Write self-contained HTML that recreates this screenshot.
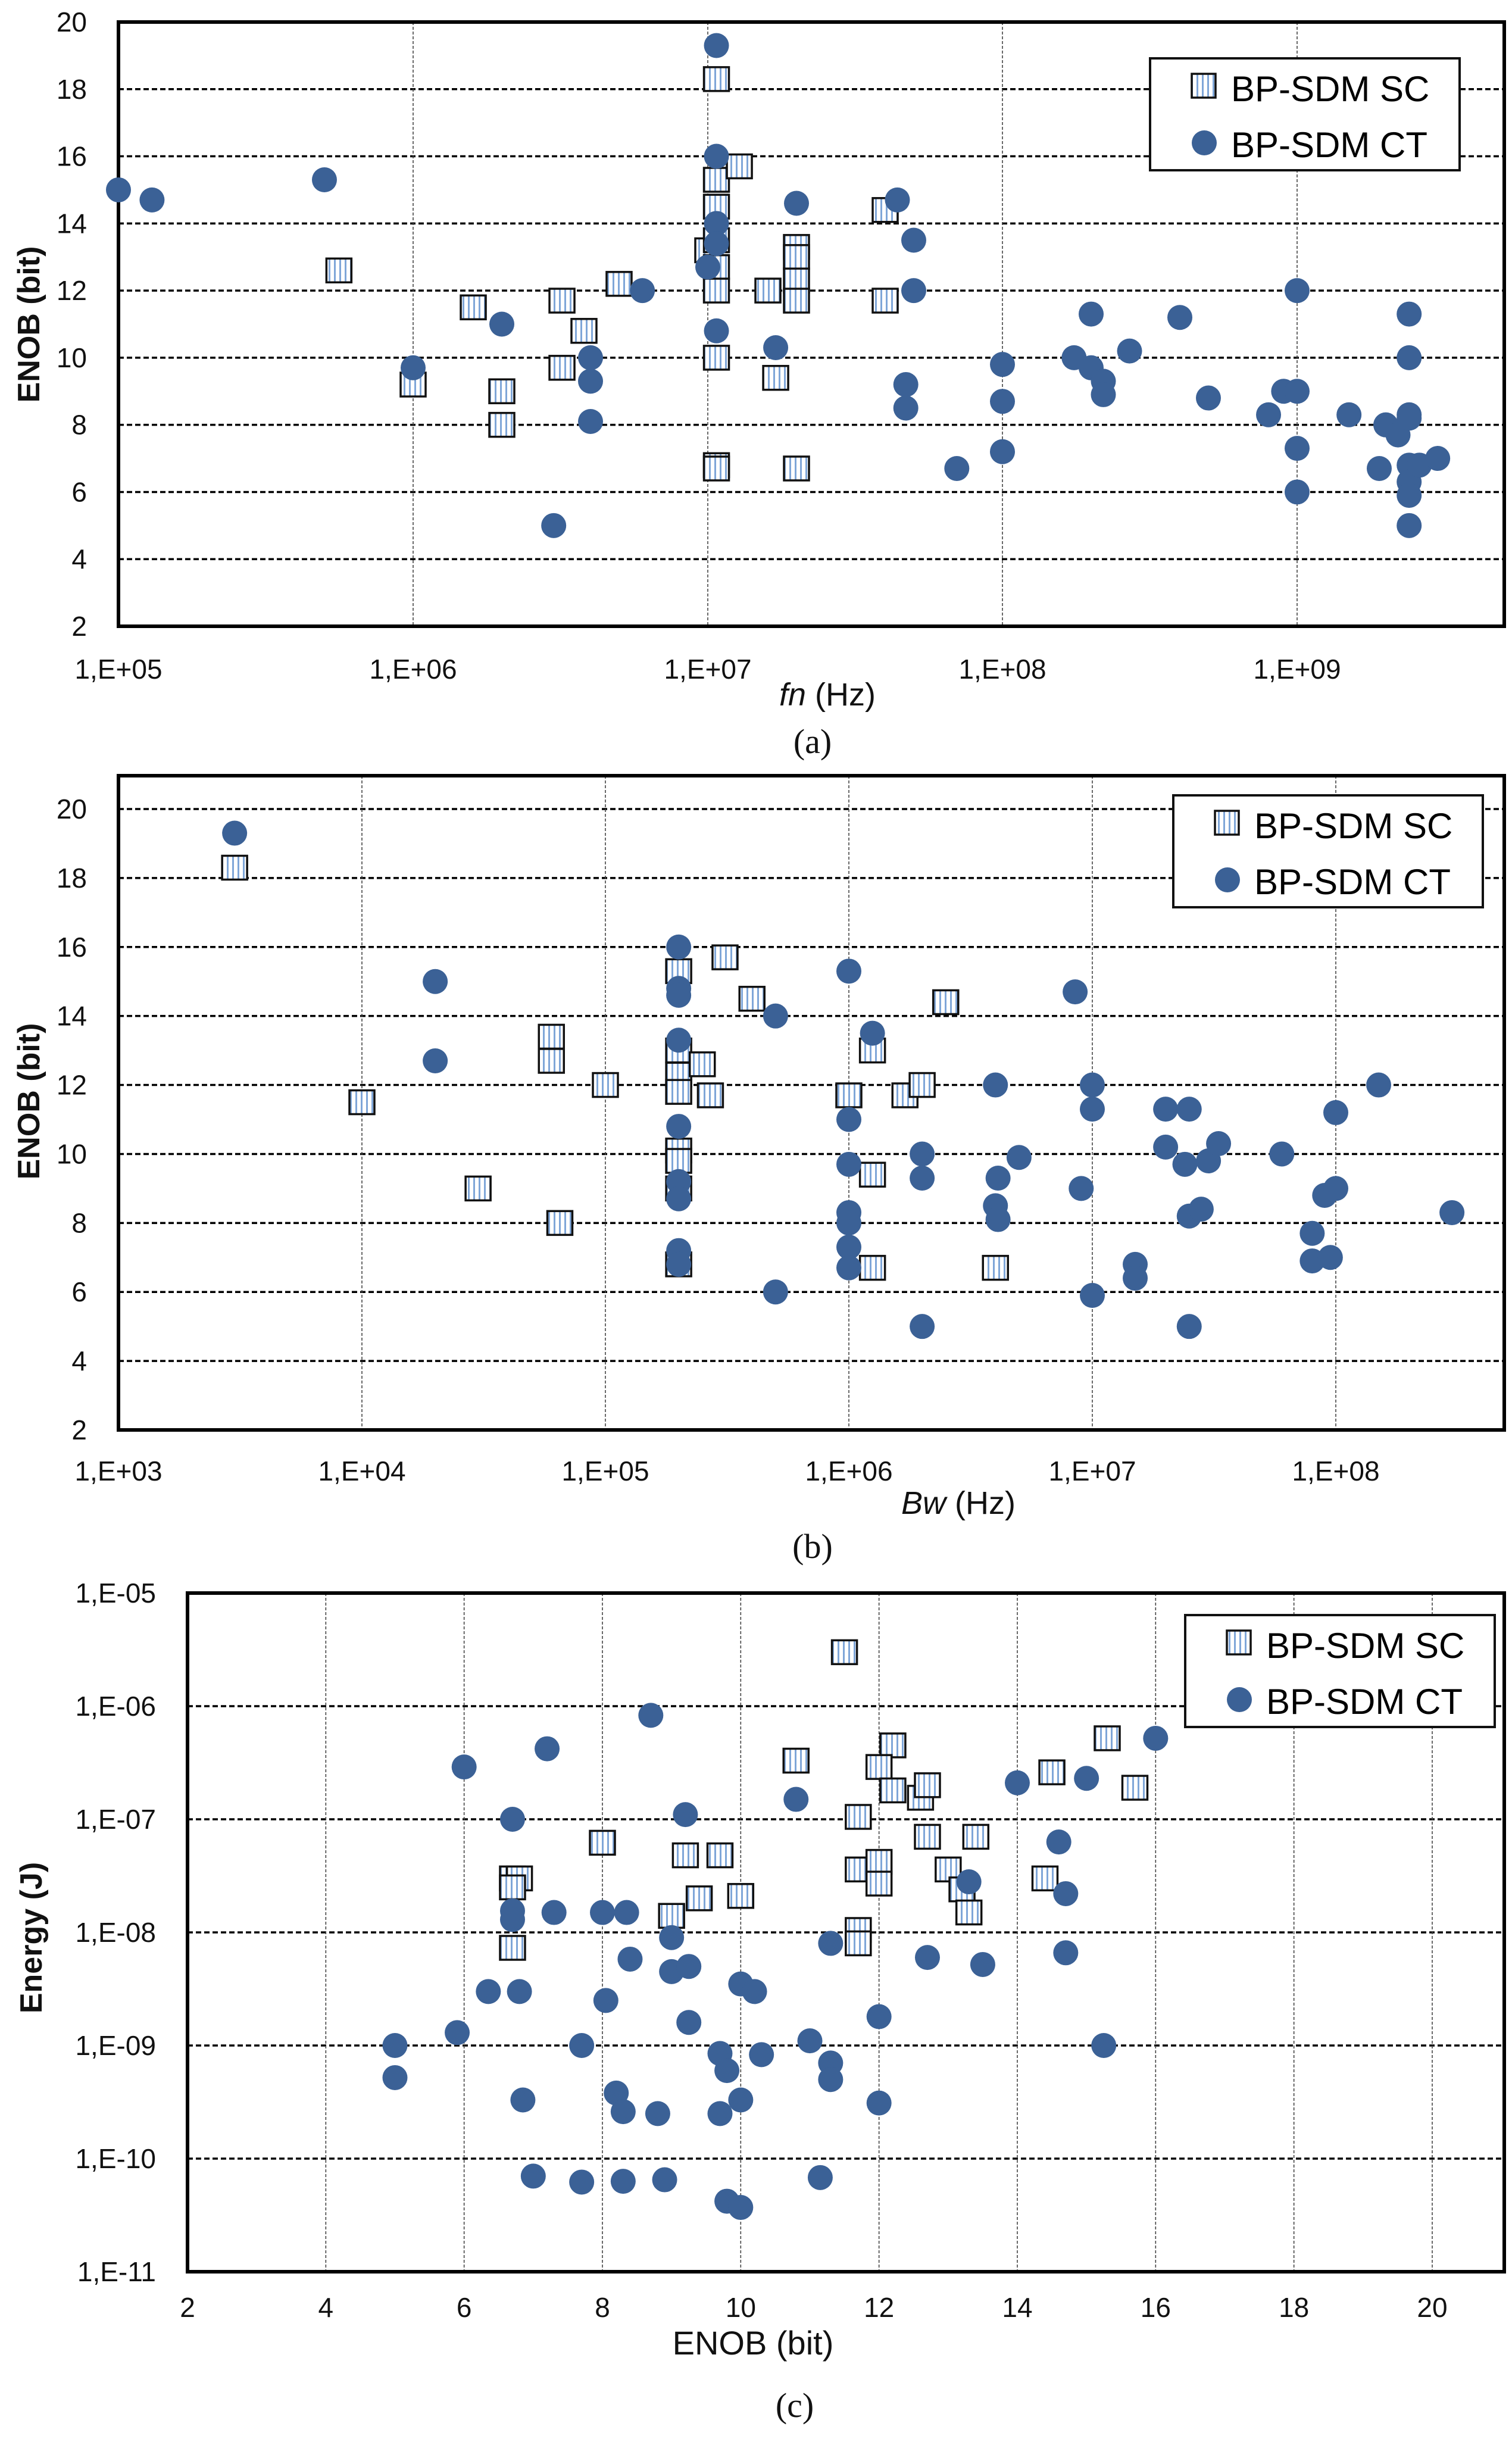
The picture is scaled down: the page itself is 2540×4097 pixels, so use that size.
<!DOCTYPE html>
<html><head><meta charset="utf-8"><style>
html,body{margin:0;padding:0;background:#fff;}
svg{display:block;font-family:"Liberation Sans",sans-serif;}
</style></head>
<body>
<svg id="fig" width="2540" height="4097" viewBox="0 0 2540 4097" xmlns="http://www.w3.org/2000/svg">
<defs>
<pattern id="stripes" patternUnits="userSpaceOnUse" width="9" height="10">
<rect width="9" height="10" fill="#ffffff"/>
<rect x="3" width="3" height="10" fill="#7fa6d8"/>
</pattern>
</defs>
</svg>
<script>
// ---------- Panel (a) data: fn (Hz) vs ENOB ----------
const aScX = [5.6e5,1e6,1.6e6,2e6,2e6,3.2e6,3.2e6,3.8e6,5e6,1e7,1.07e7,1.07e7,1.07e7,1.07e7,1.07e7,1.07e7,1.07e7,1.07e7,1.07e7,1.28e7,1.6e7,1.7e7,2e7,2e7,2e7,2e7,2e7,4e7,4e7];
const aScY = [12.6,9.2,11.5,9.0,8.0,11.7,9.7,10.8,12.2,13.2,18.3,15.3,14.5,13.5,12.7,12.0,10.0,6.8,6.7,15.7,12.0,9.4,13.3,13.0,12.3,11.7,6.7,14.4,11.7];
const aCtX = [1e5,1.3e5,5e5,1e6,2e6,3e6,4e6,4e6,4e6,6e6,1e7,1.07e7,1.07e7,1.07e7,1.07e7,1.07e7,1.7e7,2e7,4.4e7,4.7e7,4.7e7,5e7,5e7,7e7,1e8,1e8,1e8,1.75e8,2e8,2e8,2.2e8,2.2e8,2.7e8,4e8,5e8,8e8,9e8,1e9,1e9,1e9,1e9,1.5e9,1.9e9,2e9,2.2e9,2.4e9,2.4e9,2.4e9,2.4e9,2.4e9,2.4e9,2.4e9,2.4e9,2.6e9,3e9];
const aCtY = [15,14.7,15.3,9.7,11,5,10,9.3,8.1,12,12.7,19.3,16,14,13.4,10.8,10.3,14.6,14.7,9.2,8.5,13.5,12,6.7,9.8,8.7,7.2,10,11.3,9.7,9.3,8.9,10.2,11.2,8.8,8.3,9,12,9,7.3,6,8.3,6.7,8,7.7,11.3,10,8.3,8.2,6.8,6.3,5.9,5,6.8,7];
const aXTicks = ["1,E+05","1,E+06","1,E+07","1,E+08","1,E+09"];
const aYTicks = [2,4,6,8,10,12,14,16,18,20];

// ---------- Panel (b) data: Bw (Hz) vs ENOB ----------
const bScX = [3e3,1e4,3e4,6e4,6e4,6.5e4,1e5,2e5,2e5,2e5,2e5,2e5,2e5,2e5,2e5,2.5e5,2.7e5,3.1e5,4e5,1e6,1.25e6,1.25e6,1.25e6,1.7e6,2e6,2.5e6,4e6];
const bScY = [18.3,11.5,9,13.4,12.7,8,12,15.3,13,12.3,11.8,10.1,9.8,9,6.8,12.6,11.7,15.7,14.5,11.7,13,9.4,6.7,11.7,12,14.4,6.7];
const bCtX = [3e3,2e4,2e4,2e5,2e5,2e5,2e5,2e5,2e5,2e5,2e5,2e5,5e5,5e5,1e6,1e6,1e6,1e6,1e6,1e6,1e6,1.25e6,2e6,2e6,2e6,4e6,4e6,4.1e6,4.1e6,5e6,8.5e6,9e6,1e7,1e7,1e7,1.5e7,1.5e7,2e7,2e7,2.4e7,2.5e7,2.5e7,2.5e7,2.8e7,3e7,3.3e7,6e7,8e7,8e7,9e7,9.5e7,1e8,1e8,1.5e8,3e8];
const bCtY = [19.3,15,12.7,16,14.8,14.6,13.3,10.8,9.2,8.7,7.2,6.8,14,6,15.3,11,9.7,8.3,8,7.3,6.7,13.5,10,9.3,5,12,8.5,9.3,8.1,9.9,14.7,9,12,11.3,5.9,6.8,6.4,11.3,10.2,9.7,11.3,8.2,5,8.4,9.8,10.3,10,7.7,6.9,8.8,7,9,11.2,12,8.3];
const bXTicks = ["1,E+03","1,E+04","1,E+05","1,E+06","1,E+07","1,E+08"];
const bYTicks = [2,4,6,8,10,12,14,16,18,20];

// ---------- Panel (c) data: ENOB vs Energy (J) ----------
const cScX = [11.5,10.8,12.2,12.0,12.2,12.6,12.7,11.7,8.0,9.2,9.7,6.7,6.8,6.7,9.4,10.0,9.0,6.7,12.7,13.4,11.7,12.0,12.0,13.0,13.2,13.3,11.7,11.7,14.4,14.5,15.3,15.7];
const cScY = [3e-6,3.3e-7,4.5e-7,2.9e-7,1.8e-7,1.55e-7,2e-7,1.05e-7,6.2e-8,4.8e-8,4.8e-8,3e-8,3e-8,2.5e-8,2e-8,2.1e-8,1.4e-8,7.3e-9,7e-8,7e-8,3.6e-8,4.2e-8,2.7e-8,3.6e-8,2.4e-8,1.5e-8,1.05e-8,8e-9,3e-8,2.6e-7,5.2e-7,1.9e-7];
const cCtX = [5,5,5.9,6,6.35,6.7,6.7,6.7,6.8,6.85,7.0,7.2,7.3,7.7,7.7,8.0,8.05,8.2,8.3,8.3,8.35,8.4,8.7,8.8,8.9,9.0,9.0,9.2,9.25,9.25,9.7,9.7,9.8,9.8,10.0,10.0,10.0,10.2,10.3,10.8,11.0,11.15,11.3,11.3,11.3,12.0,12.0,12.7,13.3,13.5,14.0,14.6,14.7,14.7,15.0,15.25,16.0];
const cCtY = [1e-9,5.2e-10,1.3e-9,2.9e-7,3e-9,1e-7,1.55e-8,1.3e-8,3e-9,3.3e-10,7e-11,4.2e-7,1.5e-8,1e-9,6.2e-11,1.5e-8,2.5e-9,3.8e-10,2.6e-10,6.3e-11,1.5e-8,5.8e-9,8.3e-7,2.5e-10,6.5e-11,9e-9,4.5e-9,1.1e-7,5e-9,1.6e-9,8.5e-10,2.5e-10,6e-10,4.2e-11,3.5e-9,3.3e-10,3.7e-11,3e-9,8.3e-10,1.5e-7,1.1e-9,6.8e-11,7e-10,5e-10,8e-9,1.8e-9,3.1e-10,6e-9,2.8e-8,5.2e-9,2.1e-7,6.3e-8,2.2e-8,6.6e-9,2.3e-7,1e-9,5.2e-7];
const cXTicks = [2,4,6,8,10,12,14,16,18,20];
const cYTicks = ["1,E-11","1,E-10","1,E-09","1,E-08","1,E-07","1,E-06","1,E-05"];

const NS = "http://www.w3.org/2000/svg";
const svg = document.getElementById('fig');
function mk(tag, attrs, parent){
  const e = document.createElementNS(NS, tag);
  for (const k in attrs) e.setAttribute(k, attrs[k]);
  (parent||svg).appendChild(e);
  return e;
}
const CIRC = "#3b6196";

function panel(o){
  const g = mk('g', {});
  
  
  const L=o.L, R=o.R, T=o.T, B=o.B;
  o.hGrid.forEach(y=>{
    const ln = mk('line',{x1:L,x2:R,y1:y,y2:y,stroke:'#000','stroke-width':3.5,'stroke-dasharray':'9 5'},g);
    
    
  });
  o.vGrid.forEach(x=>{
    const ln = mk('line',{x1:x,x2:x,y1:T,y2:B,stroke:'#444','stroke-width':1.6,'stroke-dasharray':'5 3'},g);
    
    
  });
  const fr = mk('rect',{x:L,y:T,width:R-L,height:B-T,fill:'none',stroke:'#000','stroke-width':6},g);
  
  
  o.yLabels.forEach(t=>{
    const tx = mk('text',{x:o.yLabX,y:t.y+16,'text-anchor':'end','font-size':o.yFs||46,fill:'#111'},g);
    tx.textContent = t.s;
    
    
  });
  o.xLabels.forEach(t=>{
    const tx = mk('text',{x:t.x,y:o.xLabY,'text-anchor':'middle','font-size':46,fill:'#111'},g);
    tx.textContent = t.s;
    
    
  });
  o.sc.forEach(p=>{
    const r = mk('rect',{x:p[0]-21,y:p[1]-20,width:42,height:40,fill:'url(#stripes)',stroke:'#111','stroke-width':3.5},g);
    
    
  });
  o.ct.forEach(p=>{
    const c = mk('circle',{cx:p[0],cy:p[1],r:21,fill:CIRC},g);
    
    
  });
  const lg = mk('g',{},g);
  
  
  const lx=o.leg[0], ly=o.leg[1];
  mk('rect',{x:lx,y:ly,width:520,height:188,fill:'#fff',stroke:'#111','stroke-width':4},lg);
  const e1 = mk('g',{},lg);
  
  
  mk('rect',{x:lx+70,y:ly+26,width:40,height:40,fill:'url(#stripes)',stroke:'#111','stroke-width':3.5},e1);
  const t1 = mk('text',{x:lx+136,y:ly+72,'font-size':60,fill:'#000'},e1); t1.textContent='BP-SDM SC';
  const e2 = mk('g',{},lg);
  
  
  mk('circle',{cx:lx+91,cy:ly+142,r:21,fill:CIRC},e2);
  const t2 = mk('text',{x:lx+136,y:ly+166,'font-size':60,fill:'#000'},e2); t2.textContent='BP-SDM CT';
}

function addText(s,x,y,fs,attrs,name,inner){
  const t = mk('text',Object.assign({x:x,y:y,'font-size':fs,'text-anchor':'middle',fill:'#111'},attrs||{}));
  if (inner) t.innerHTML = inner; else t.textContent = s;
  
  
  return t;
}

(function(){
  const L=199,R=2527,T=37,B=1052;
  const xs = v=> L + (Math.log10(v)-5)*495;
  const ys = v=> B - (v-2)*(B-T)/18;
  panel({name:'panel-a',L,R,T,B,
    hGrid:aYTicks.filter(v=>v>2&&v<20).map(ys),
    vGrid:aXTicks.map((s,i)=>xs(Math.pow(10,5+i))).filter(x=>x>L+2),
    yLabels:aYTicks.map(v=>({y:ys(v),s:String(v)})), yLabX:146,
    xLabels:aXTicks.map((s,i)=>({x:xs(Math.pow(10,5+i)),s})), xLabY:1140,
    sc:aScX.map((x,i)=>[xs(x),ys(aScY[i])]),
    ct:aCtX.map((x,i)=>[xs(x),ys(aCtY[i])]),
    leg:[1932,98]});
  addText('',0,0,52,{transform:'translate(66,545) rotate(-90)','font-weight':'bold'},'y-axis-title-a').textContent='ENOB (bit)';
  addText('',1390,1185,54,{},'x-axis-title-a',null).innerHTML='<tspan font-style="italic">fn</tspan> (Hz)';
  addText('(a)',1365,1265,58,{'font-family':'Liberation Serif, serif'},'caption-a');
})();

(function(){
  const L=199,R=2527,T=1303,B=2402;
  const y20=1359, y2=2402;
  const xs = v=> L + (Math.log10(v)-3)*409;
  const ys = v=> y2 - (v-2)*(y2-y20)/18;
  panel({name:'panel-b',L,R,T,B,
    hGrid:bYTicks.filter(v=>v>2).map(ys),
    vGrid:bXTicks.map((s,i)=>xs(Math.pow(10,3+i))).filter(x=>x>L+2),
    yLabels:bYTicks.map(v=>({y:ys(v),s:String(v)})), yLabX:146,
    xLabels:bXTicks.map((s,i)=>({x:xs(Math.pow(10,3+i)),s})), xLabY:2487,
    sc:bScX.map((x,i)=>[xs(x),ys(bScY[i])]),
    ct:bCtX.map((x,i)=>[xs(x),ys(bCtY[i])]),
    leg:[1971,1336]});
  addText('',0,0,52,{transform:'translate(66,1850) rotate(-90)','font-weight':'bold'},'y-axis-title-b').textContent='ENOB  (bit)';
  addText('',1610,2543,54,{},'x-axis-title-b',null).innerHTML='<tspan font-style="italic">Bw</tspan> (Hz)';
  addText('(b)',1365,2617,58,{'font-family':'Liberation Serif, serif'},'caption-b');
})();

(function(){
  const L=315,R=2527,T=2676,B=3816;
  const xs = v=> L + (v-2)*(2406-315)/18;
  const ys = v=> T + (-5 - Math.log10(v))*190;
  panel({name:'panel-c',L,R,T,B,
    hGrid:cYTicks.map((s,i)=>ys(Math.pow(10,-11+i))).filter(y=>y>T+2&&y<B-2),
    vGrid:cXTicks.map(xs).filter(x=>x>L+2),
    yLabels:cYTicks.map((s,i)=>({y:ys(Math.pow(10,-11+i)),s})), yLabX:262,
    xLabels:cXTicks.map(v=>({x:xs(v),s:String(v)})), xLabY:3892,
    sc:cScX.map((x,i)=>[xs(x),ys(cScY[i])]),
    ct:cCtX.map((x,i)=>[xs(x),ys(cCtY[i])]),
    leg:[1991,2713]});
  addText('',0,0,52,{transform:'translate(70,3255) rotate(-90)','font-weight':'bold'},'y-axis-title-c').textContent='Energy (J)';
  addText('ENOB (bit)',1265,3955,56,{},'x-axis-title-c');
  addText('(c)',1335,4060,58,{'font-family':'Liberation Serif, serif'},'caption-c');
})();
</script>
</body></html>
